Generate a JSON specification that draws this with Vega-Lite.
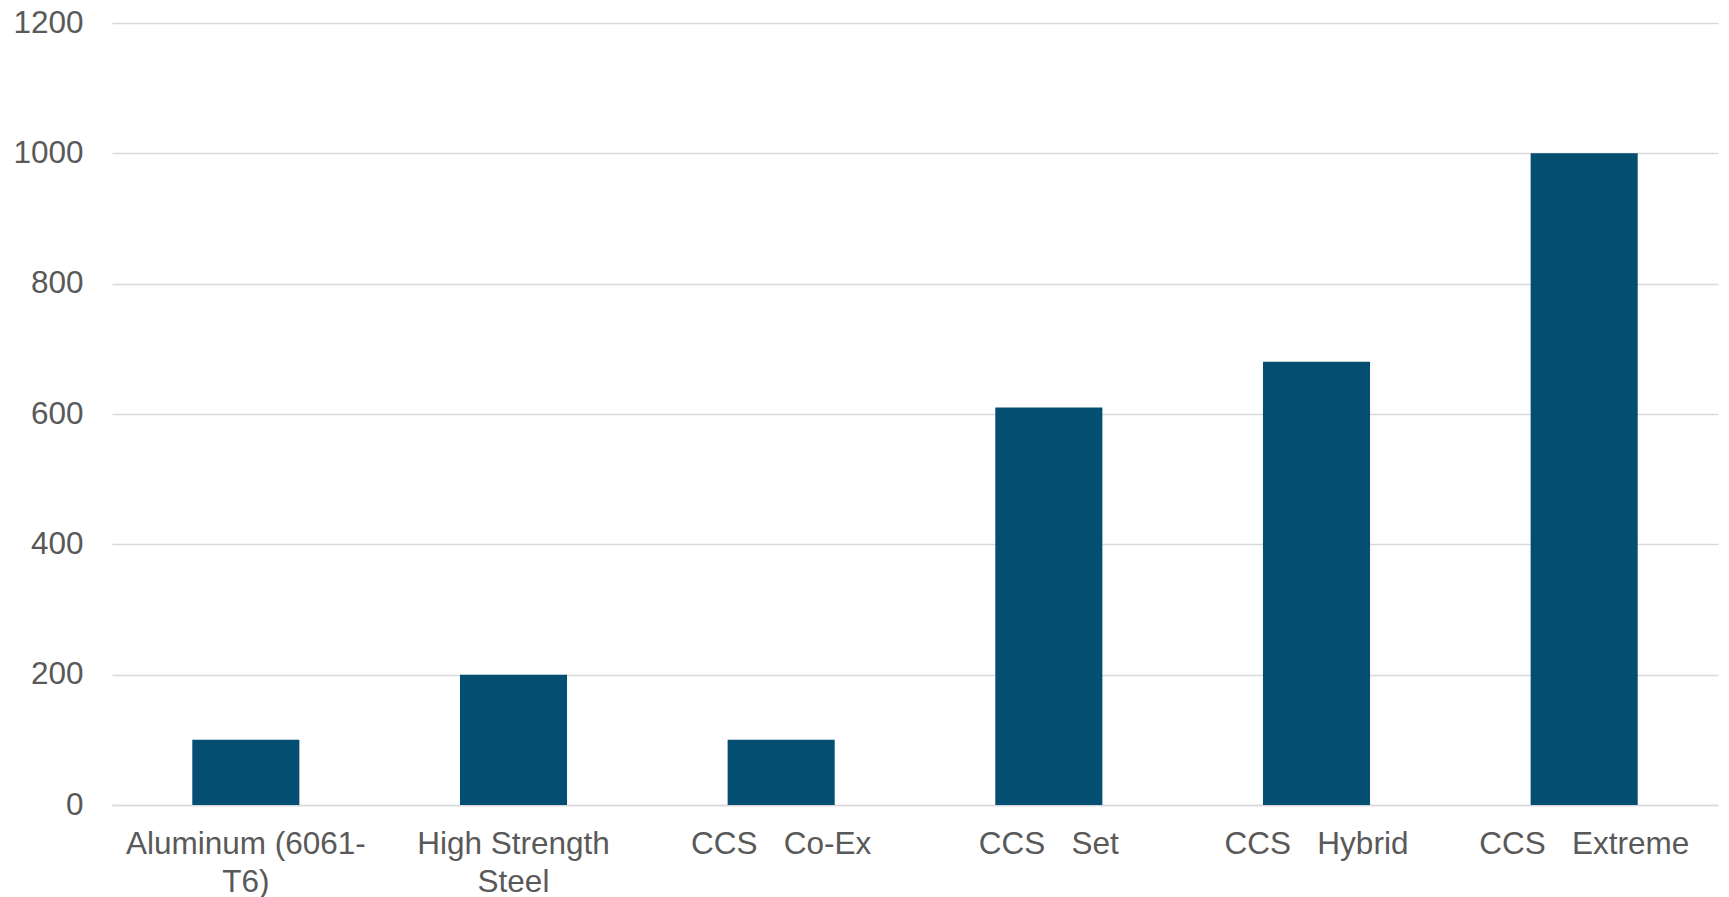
{
  "$schema": "https://vega.github.io/schema/vega-lite/v6.json",
  "autosize": {"type": "none"},
  "width": 1606,
  "height": 782,
  "padding": {"left": 112, "top": 23, "right": 11, "bottom": 92},
  "background": "white",
  "data": {
    "values": [
      {"material": "Aluminum (6061-T6)", "value": 100},
      {"material": "High Strength Steel", "value": 200},
      {"material": "CCS\u00a0\u00a0\u00a0Co-Ex", "value": 100},
      {"material": "CCS\u00a0\u00a0\u00a0Set", "value": 610},
      {"material": "CCS\u00a0\u00a0\u00a0Hybrid", "value": 680},
      {"material": "CCS\u00a0\u00a0\u00a0Extreme", "value": 1000}
    ]
  },
  "mark": {"type": "bar", "color": "#034E71"},
  "encoding": {
    "x": {
      "field": "material",
      "type": "nominal",
      "sort": null,
      "scale": {"paddingInner": 0.6, "paddingOuter": 0.3},
      "axis": {
        "title": null,
        "labelAngle": 0,
        "labelFont": "Liberation Sans",
        "labelFontSize": 31.5,
        "labelColor": "#595959",
        "labelLineHeight": 38,
        "labelPadding": 23,
        "labelLimit": 0,
        "ticks": false,
        "domainColor": "#D9D9D9",
        "domainWidth": 1.5,
        "labelExpr": "datum.label == 'Aluminum (6061-T6)' ? ['Aluminum (6061-', 'T6)'] : datum.label == 'High Strength Steel' ? ['High Strength', 'Steel'] : datum.label"
      }
    },
    "y": {
      "field": "value",
      "type": "quantitative",
      "scale": {"domain": [0, 1200]},
      "axis": {
        "title": null,
        "format": "d",
        "values": [0, 200, 400, 600, 800, 1000, 1200],
        "labelFont": "Liberation Sans",
        "labelFontSize": 31.5,
        "labelColor": "#595959",
        "labelPadding": 29,
        "ticks": false,
        "domain": false,
        "gridColor": "#D9D9D9",
        "gridWidth": 1.5
      }
    }
  },
  "config": {"view": {"stroke": null}}
}
